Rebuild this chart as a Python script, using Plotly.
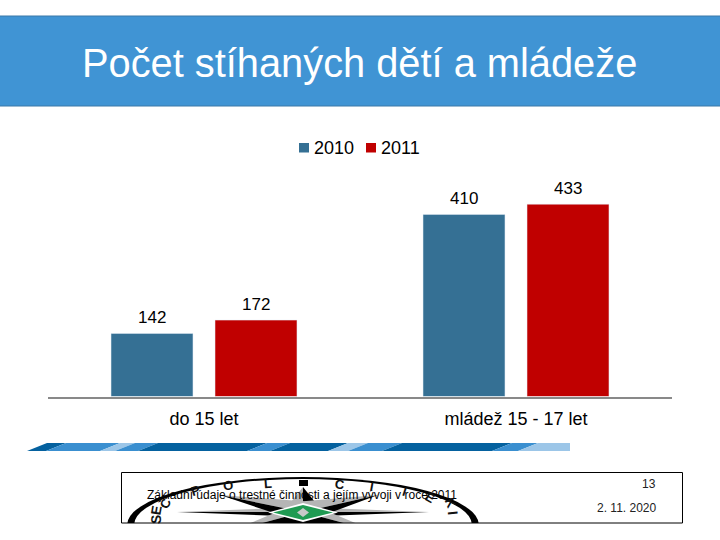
"""Pocet stihanych deti a mladeze - slide with a grouped bar chart."""
import plotly.graph_objects as go

TITLE = "Počet stíhaných dětí a mládeže"
FOOTER = "Základní údaje o trestné činnosti a jejím vývoji v roce 2011"
PAGE_NO = "13"
DATE = "2. 11. 2020"

categories = ["do 15 let", "mládež 15 - 17 let"]
series_names = ["2010", "2011"]
values_2010 = [142, 410]
values_2011 = [172, 433]

BLUE = "#357094"
RED = "#c00000"
FONT = "Liberation Sans"

DARK, MID, LIGHT = "#04619f", "#3a8fd0", "#9cc6e8"
# slanted stripe under the chart: start, end along the top edge, colour
stripe = [
    (47, 66, DARK), (66, 120, MID), (120, 135, LIGHT), (135, 158, MID),
    (158, 267, DARK), (267, 290, MID), (290, 348, DARK), (348, 368, LIGHT),
    (368, 402, MID), (402, 512, DARK), (512, 538, MID), (538, 588, LIGHT),
]

# compass star of the logo: tip position, half width of the base
star_tips = [
    (177, 512, 8), (429, 512, 8), (303, 487, 20),
    (220, 495, 18), (378, 495, 18), (229, 532, 18), (377, 532, 18),
]
# ring letters: text, x, y, angle, size
ring_letters = [
    ("P", 196, 490, -18, 13), ("O", 228, 485, -10, 13), ("L", 268, 483, -4, 13),
    ("C", 340, 484, 5, 13), ("I", 372, 486, 10, 13), ("I", 405, 491, 18, 13),
    ("E", 430, 497, 30, 13),
    ("Č", 165, 503, -65, 13), ("E", 156, 511, -80, 14), ("S", 156, 520, -88, 14),
    ("K", 451, 503, 68, 13), ("I", 453, 513, 85, 14),
]


def px(x, y):
    return f"{x / 720:.5f},{1 - y / 540:.5f}"


def poly(points, color, line=None, width=0):
    path = "M" + " L".join(px(x, y) for x, y in points) + " Z"
    return dict(type="path", xref="paper", yref="paper", path=path, fillcolor=color,
                line=dict(color=line or color, width=width), layer="below")


def rect(x0, y0, x1, y1, fill, line=None, width=0):
    return dict(type="rect", xref="paper", yref="paper", x0=x0 / 720, x1=x1 / 720,
                y0=1 - y0 / 540, y1=1 - y1 / 540, fillcolor=fill,
                line=dict(color=line or fill, width=width), layer="below")


def ellipse(x0, y0, x1, y1, fill):
    return dict(type="circle", xref="paper", yref="paper", x0=x0 / 720, x1=x1 / 720,
                y0=1 - y0 / 540, y1=1 - y1 / 540, fillcolor=fill,
                line=dict(color=fill, width=0), layer="below")


def label(text, x, y, size, color="black", anchor="center", angle=0):
    return dict(text=text, xref="paper", yref="paper", x=x / 720, y=1 - y / 540,
                xanchor=anchor, yanchor="middle", showarrow=False, textangle=angle,
                font=dict(family=FONT, size=size, color=color))


shapes = [rect(-1, 16, 721, 106, "#4094d4", "#3a78a8", 1)]

# stripe
for i, (a, b, color) in enumerate(stripe):
    left = a - 20 if i else 27
    pts = [(left, 451), (a, 443), (min(b, 570), 443), (min(b - 20, 570), 451)]
    if b > 570:
        pts = [(left, 451), (a, 443), (570, 443), (570, 451)]
    shapes.append(poly(pts, color))

# logo: ring, star, green centre, then cut off at the footer box
shapes.append(ellipse(127, 477, 479, 573, "black"))
shapes.append(ellipse(134, 479, 472, 571, "white"))
for tx, ty, half in star_tips:
    if abs(tx - 303) < 1:
        side_a, side_b = (303 - half, 512), (303 + half, 512)
    else:
        side_a, side_b = (303, 512 - half * 0.6), (303, 512 + half * 0.6)
    shapes.append(poly([(tx, ty), side_a, (303, 512)], "#b5b5b5"))
    shapes.append(poly([(tx, ty), side_b, (303, 512)], "black"))
shapes.append(rect(299, 480, 308, 486, "black"))
shapes.append(poly([(268, 512.5), (303, 503), (338, 512.5), (303, 522)], "white"))
shapes.append(poly([(273, 512.5), (303, 505), (333, 512.5), (303, 520)], "#1f9a52"))
shapes.append(poly([(297, 512.5), (303, 508), (309, 512.5), (303, 517)], "#c8c8c8"))
shapes.append(rect(115, 523, 690, 580, "white"))
shapes.append(dict(type="rect", xref="paper", yref="paper", x0=121.5 / 720, x1=682.5 / 720,
                   y0=1 - 472.5 / 540, y1=1 - 523 / 540, line=dict(color="black", width=1),
                   fillcolor="rgba(0,0,0,0)", layer="below"))

# legend keys sit tight against their text, closer than plotly's own legend allows
shapes.append(rect(299, 143, 309, 152.5, BLUE))
shapes.append(rect(366, 143, 376, 152.5, RED))

fig = go.Figure()
fig.add_trace(go.Bar(x=categories, y=values_2010, name=series_names[0], marker_color=BLUE))
fig.add_trace(go.Bar(x=categories, y=values_2011, name=series_names[1], marker_color=RED))

annotations = [
    label(TITLE, 359.5, 63, 39.8, "white"),
    label(FOOTER, 302, 495, 12),
    label(PAGE_NO, 658, 484, 12, "#222222", "right"),
    label(DATE, 658, 508, 12, "#222222", "right"),
    label(series_names[0], 334, 148, 18),
    label(series_names[1], 400, 148, 18),
]
for text, x, y, angle, size in ring_letters:
    annotations.append(label(f"<b>{text}</b>", x, y, size, "#111111", angle=angle))

# value labels sit well above the bars
for i, cat in enumerate(categories):
    for val, off in ((values_2010[i], -1 / 6), (values_2011[i], 1 / 6)):
        annotations.append(dict(text=str(val), x=i + off, y=val, xref="x", yref="y",
                                yshift=16, yanchor="middle", showarrow=False,
                                font=dict(family=FONT, size=17, color="black")))

fig.update_layout(
    width=720,
    height=540,
    margin=dict(l=0, r=0, t=0, b=0),
    paper_bgcolor="white",
    plot_bgcolor="white",
    font=dict(family=FONT, size=17, color="black"),
    barmode="group",
    bargap=1 / 3,
    bargroupgap=0.212,
    shapes=shapes,
    annotations=annotations,
    showlegend=False,
    xaxis=dict(domain=[48 / 720, 672 / 720], showline=True, linecolor="#898989", linewidth=2,
               ticks="outside", ticklen=5, tickcolor="rgba(0,0,0,0)", showgrid=False,
               tickfont=dict(family=FONT, size=18, color="black")),
    yaxis=dict(domain=[1 - 396.5 / 540, 1 - 170 / 540], range=[0, 510], visible=False),
)

fig.write_html("out.html", config=dict(displayModeBar=False),
               post_script="document.body.style.margin = '0';")
